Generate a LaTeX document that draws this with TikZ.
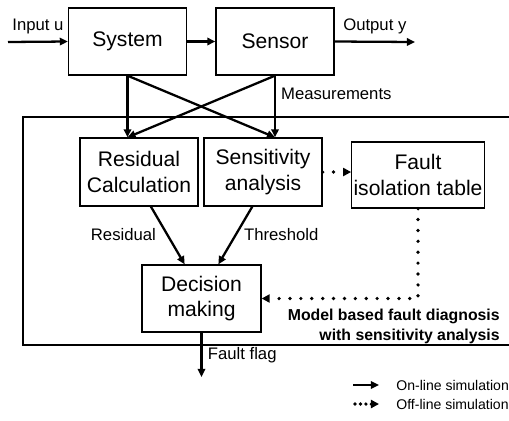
\documentclass[tikz,border=0pt]{standalone}
\usepackage{fontspec}
\setmainfont{Liberation Sans}
\usepackage{tikz}
\usetikzlibrary{
  positioning,
  arrows.meta,
  calc
}
\tikzset{
  % Standard block
  block/.style={
    rectangle,
    draw=black,
    line width=0.75pt,
    minimum width=2.36cm,
    minimum height=1.34cm,
    inner sep=1pt,
    align=center,
    font=\fontsize{12}{14.6}\selectfont
  },
  % On-line signal (solid)
  online/.style={
    draw=black,
    line width=1.3pt,
    -{Triangle[length=4.6pt,width=4.2pt]}
  },
  % Off-line signal (dotted)
  offline/.style={
    draw=black,
    line width=2.1pt,
    line cap=round,
    dash pattern=on 0pt off 6.2pt,
    -{Triangle[length=4.6pt,width=4.6pt]}
  },
  % Signal label
  sig/.style={
    font=\fontsize{9.5}{11}\selectfont,
    inner sep=1pt
  },
  % Legend text
  legtext/.style={
    font=\fontsize{8}{10}\selectfont,
    anchor=west,
    inner sep=0pt
  }
}

\begin{document}
\begin{tikzpicture}[x=0.02cm, y=-0.02cm]
  \useasboundingbox (0,0) rectangle (509,420);

  % Plant
  \node[block] (sys) at (127.5,41.5) {System};
  \node[block] (sen) at (275,41.5) {Sensor};
  \coordinate (uin) at (8,42);
  \coordinate (yout) at (415,42);
  \draw[online] (uin) -- node[sig, above=3pt] {Input u} (sys.west);
  \draw[online] (sys) -- (sen);
  \draw[online] (sen.east) -- node[sig, above=3pt] {Output y} (yout);

  % Diagnosis frame
  \draw[line width=0.6pt] (515,117) -- (23,117) -- (23,345) -- (515,345);

  % Diagnosis blocks
  \node[block, minimum height=1.36cm] (res) at (139,172) {Residual\\Calculation};
  \node[block, minimum height=1.36cm] (sens) at (263,172) {Sensitivity\\analysis};
  \node[block, minimum width=2.56cm, minimum height=1.32cm] (fit) at (418,175) {Fault\\isolation table};
  \node[block, minimum width=2.38cm] (dec) at (201.5,298.5) {Decision\\making};

  % Measurements to both blocks
  \draw[online] (sys.south) -- (sys.south |- res.north);
  \draw[online] (sys.south) -- (sen.south |- sens.north);
  \draw[online] (sen.south) -- (sys.south |- res.north);
  \draw[online] (sen.south) -- (sen.south |- sens.north);
  \node[sig, anchor=west] (meas) at (279,94) {Measurements};

  % Residual and threshold
  \draw[online] ($(res.south west)!0.6!(res.south east)$)
    -- ($(dec.north west)!0.36!(dec.north east)$);
  \draw[online] ($(sens.south west)!0.41!(sens.south east)$)
    -- ($(dec.north west)!0.64!(dec.north east)$);
  \node[sig, anchor=east] (reslbl) at (158,235) {Residual};
  \node[sig, anchor=west] (thrlbl) at (242,235) {Threshold};

  % Off-line path
  \draw[offline] (sens.east) -- (sens.east -| fit.west);
  \draw[offline] (fit.south) |- (dec.east);

  \node[font=\bfseries\fontsize{9}{11.3}\selectfont, align=right, anchor=east, inner sep=0pt]
    (title) at (500,326) {Model based fault diagnosis\\with sensitivity analysis};

  % Output flag
  \coordinate (flag) at (dec.south |- 0,377);
  \draw[online] (dec.south) -- node[sig, right=2pt] {Fault flag} (flag);

  % Legend
  \coordinate (l1a) at (353,385);
  \coordinate (l1b) at (379,385);
  \coordinate (l2a) at (355,404);
  \coordinate (l2b) at (379,404);
  \draw[online] (l1a) -- (l1b);
  \draw[offline, dash pattern=on 0pt off 3.1pt] (l2a) -- (l2b);
  \node[legtext] (leg1) at (396,385) {On-line simulation};
  \node[legtext] (leg2) at (396,404) {Off-line simulation};
\end{tikzpicture}
\end{document}
